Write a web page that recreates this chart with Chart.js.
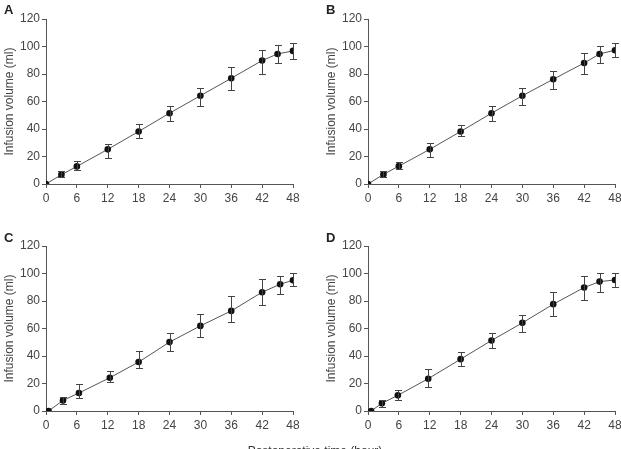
<!DOCTYPE html>
<html>
<head>
<meta charset="utf-8">
<script src="https://cdn.jsdelivr.net/npm/chart.js@4"></script>
<style>
  html, body { margin: 0; padding: 0; background: #fff; overflow: hidden; }
  body { width: 621px; height: 449px; position: relative; font-family: "Liberation Sans", Arial, sans-serif; }
  .panel { position: absolute; width: 310px; height: 220px; }
  .panel canvas { display: block; }
  .letter { position: absolute; font-weight: bold; font-size: 13px; color: #222; }
  .xtitle { position: absolute; left: 0; width: 630px; top: 444px; text-align: center; font-size: 12px; color: #333; }
</style>
</head>
<body>
<div class="panel" style="left:0;top:0"><canvas id="chartA" width="310" height="220"></canvas></div>
<div class="panel" style="left:322px;top:0"><canvas id="chartB" width="310" height="220"></canvas></div>
<div class="panel" style="left:0;top:227px"><canvas id="chartC" width="310" height="220"></canvas></div>
<div class="panel" style="left:322px;top:227px"><canvas id="chartD" width="310" height="220"></canvas></div>
<div class="letter" style="left:4px;top:2px">A</div>
<div class="letter" style="left:326px;top:2px">B</div>
<div class="letter" style="left:4px;top:230px">C</div>
<div class="letter" style="left:326px;top:230px">D</div>
<div class="xtitle">Postoperative time (hour)</div>
<script>
(function(){
    // hours after surgery, mean volume and SD range
    let hoursA = [0, 3, 6, 12, 18, 24, 30, 36, 42, 45, 48];
    let meanA  = [0, 6.8, 12.8, 25.2, 38.2, 51.5, 64.2, 76.9, 89.8, 94.6, 96.8];
    let lowA   = [null, 4.8, 10, 19.1, 33.6, 45.7, 56.9, 68.5, 80.3, 87.8, 91];
    let highA  = [null, 9.2, 16.7, 29.3, 43.3, 56.9, 69.9, 84.9, 97.7, 101.1, 102.3];

    let hoursB = [0, 3, 6, 12, 18, 24, 30, 36, 42, 45, 48];
    let meanB  = [0, 7, 13, 25.2, 38.2, 51.5, 64.2, 76.2, 88, 94.6, 97.3];
    let lowB   = [null, 5.1, 10.6, 19.8, 34.6, 46, 57.6, 69, 79.8, 88, 92.7];
    let highB  = [null, 9.4, 15.7, 29.8, 42.6, 56.9, 69.7, 82, 95.6, 100.6, 102.6];

    let hoursC = [0.5, 3.3, 6.4, 12.4, 18, 24, 30, 36, 42, 45.5, 48];
    let meanC  = [0, 7.7, 13.1, 24.2, 35.6, 50.1, 61.9, 72.8, 86.4, 92.2, 95.1];
    let lowC   = [null, 5.1, 9.4, 21, 31.2, 43.3, 54, 64.6, 77.2, 85.4, 90.7];
    let highC  = [null, 10.2, 19.4, 29.3, 43.3, 56.9, 70.2, 83.7, 95.8, 98.5, 100.4];

    let hoursD = [0.6, 2.7, 5.8, 11.7, 18, 24, 30, 36, 42, 45, 48];
    let meanD  = [0, 5.6, 11.4, 23.5, 37.7, 51.3, 64.1, 77.7, 89.8, 94.1, 95.3];
    let lowD   = [null, 2.7, 7.7, 17.4, 32.9, 45.5, 57.6, 69.4, 81, 86.6, 90];
    let highD  = [null, 8.2, 15.2, 30.5, 42.8, 56.9, 69.7, 86.4, 98.5, 100.7, 100.7];

    let xTicks = [0, 6, 12, 18, 24, 30, 36, 42, 48];
    let yTicks = [0, 20, 40, 60, 80, 100, 120];

    let ink = '#444';
    let axisColor = '#555';
    let font = { family: '"Liberation Sans", Arial, sans-serif', size: 12 };

    let errorBars = {
        id: 'errorBars',
        afterDatasetsDraw(chart) {
            let ctx = chart.ctx;
            let x = chart.scales.x, y = chart.scales.y;
            ctx.save();
            ctx.strokeStyle = ink;
            ctx.lineWidth = 1;
            chart.data.datasets[0].data.forEach((p) => {
                if (p.lo == null) return;
                let px = Math.round(x.getPixelForValue(p.x)) + 0.5;
                let top = Math.round(y.getPixelForValue(p.hi)) + 0.5;
                let bot = Math.round(y.getPixelForValue(p.lo)) + 0.5;
                ctx.beginPath();
                ctx.moveTo(px, top); ctx.lineTo(px, bot);
                ctx.moveTo(px - 3.5, top); ctx.lineTo(px + 3.5, top);
                ctx.moveTo(px - 3.5, bot); ctx.lineTo(px + 3.5, bot);
                ctx.stroke();
            });
            ctx.restore();
        }
    };

    let makePanel = function(id, hours, mean, low, high) {
        let points = hours.map((h, i) => ({ x: h, y: mean[i], lo: low[i], hi: high[i] }));
        new Chart(document.getElementById(id), {
            type: 'line',
            data: {
                datasets: [{
                    data: points,
                    borderColor: '#555',
                    borderWidth: 1,
                    pointRadius: 3.3,
                    pointBackgroundColor: '#111',
                    pointBorderWidth: 0,
                    tension: 0
                }]
            },
            options: {
                responsive: false,
                animation: false,
                events: [],
                layout: { padding: { top: 19, right: 17, left: 0, bottom: 0 } },
                plugins: { legend: { display: false }, tooltip: { enabled: false } },
                scales: {
                    x: {
                        type: 'linear',
                        min: 0, max: 48,
                        afterBuildTicks: (s) => { s.ticks = xTicks.map(v => ({ value: v })); },
                        afterFit: (s) => { s.height = 36; },
                        grid: { drawOnChartArea: false, drawTicks: true, tickLength: 4, color: axisColor },
                        border: { display: true, color: axisColor, width: 1 },
                        ticks: { color: ink, font: font, padding: 3, maxRotation: 0, autoSkip: false }
                    },
                    y: {
                        type: 'linear',
                        min: 0, max: 120,
                        afterBuildTicks: (s) => { s.ticks = yTicks.map(v => ({ value: v })); },
                        afterFit: (s) => { s.width = 46; },
                        grid: { drawOnChartArea: false, drawTicks: true, tickLength: 4, color: axisColor },
                        border: { display: true, color: axisColor, width: 1 },
                        ticks: { color: ink, font: font, padding: 2 },
                        title: {
                            display: true,
                            text: 'Infusion volume (ml)',
                            color: ink,
                            font: font,
                            padding: { top: 2, bottom: 0 }
                        }
                    }
                }
            },
            plugins: [errorBars]
        });
    };

    makePanel('chartA', hoursA, meanA, lowA, highA);
    makePanel('chartB', hoursB, meanB, lowB, highB);
    makePanel('chartC', hoursC, meanC, lowC, highC);
    makePanel('chartD', hoursD, meanD, lowD, highD);
})();
</script>
</body>
</html>
